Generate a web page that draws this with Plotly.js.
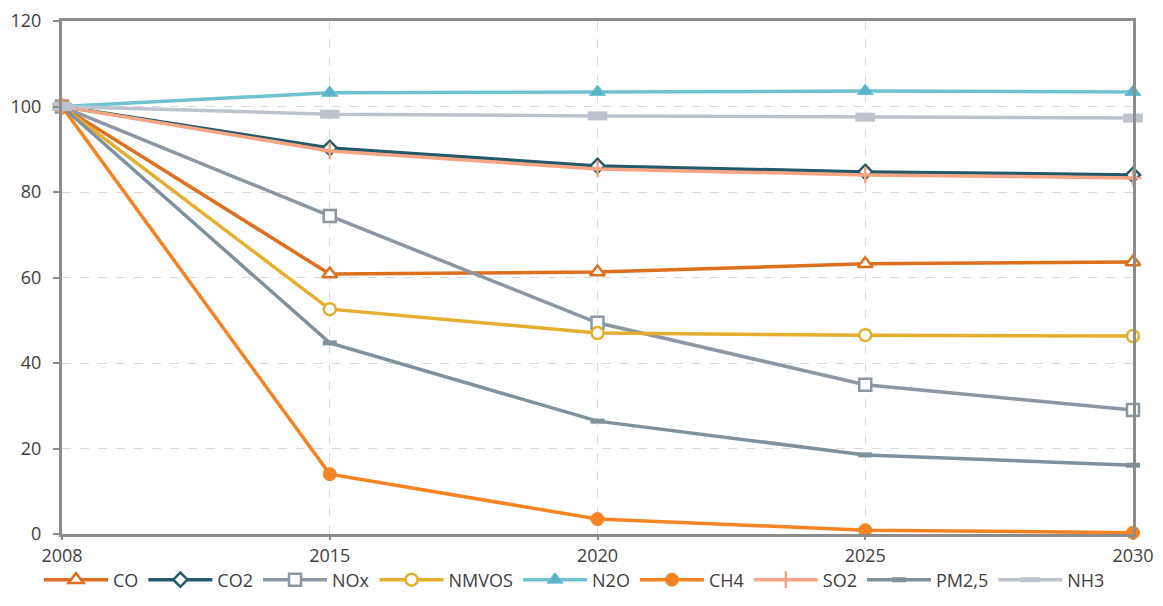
<!DOCTYPE html>
<html><head><meta charset="utf-8">
<script src="https://cdn.plot.ly/plotly-3.0.1.min.js"></script>
<style>html,body{margin:0;padding:0;background:#fff}#c{width:1163px;height:606px}</style>
</head><body><div id="c"></div>
<script>
const years = ["2008","2015","2020","2025","2030"];
const CO    = [100, 60.8, 61.3, 63.2, 63.6];
const CO2   = [100, 90.3, 86.1, 84.7, 84.0];
const NOx   = [100, 74.4, 49.4, 34.9, 29.0];
const NMVOS = [100, 52.6, 47.0, 46.5, 46.3];
const N2O   = [100, 103.2, 103.4, 103.6, 103.4];
const CH4   = [100, 14.0, 3.5, 0.9, 0.3];
const SO2   = [100, 89.6, 85.4, 84.0, 83.3];
const PM25  = [100, 44.7, 26.4, 18.5, 16.1];
const NH3   = [100, 98.2, 97.8, 97.5, 97.3];

function tr(name, y, color, marker){
  return {type:'scatter', mode:'lines+markers', name:name, x:years, y:y,
    line:{color:color, width:3.5},
    marker:marker, cliponaxis:false};
}
const data = [
  tr('CO', CO, '#DE6F1E', {symbol:'triangle-up', size:13, color:'#fff', line:{color:'#DE6F1E', width:2.5}}),
  tr('CO2', CO2, '#22596B', {symbol:'diamond', size:11, color:'#fff', line:{color:'#22596B', width:2.5}}),
  tr('NOx', NOx, '#8C97A4', {symbol:'square', size:12, color:'#fff', line:{color:'#8C97A4', width:2.5}}),
  tr('NMVOS', NMVOS, '#E5AE2E', {symbol:'circle', size:12, color:'#fff', line:{color:'#E5AE2E', width:2.5}}),
  tr('N2O', N2O, '#6EC2D1', {symbol:'triangle-up', size:14, color:'#5DB3C3', line:{color:'#6EC2D1', width:1}}),
  tr('CH4', CH4, '#F58322', {symbol:'circle', size:13, color:'#F58322', line:{color:'#F58322', width:1}}),
  tr('SO2', SO2, '#F5A583', {symbol:'cross-thin', size:12, line:{color:'#F5A583', width:2.5}}),
  tr('PM2,5', PM25, '#7F919D', {symbol:'line-ew', size:10, line:{color:'#7F919D', width:5}}),
  tr('NH3', NH3, '#BCC3CC', {symbol:'line-ew', size:14, line:{color:'#BCC3CC', width:9}})
];
const font = {family:'Open Sans, sans-serif', size:18, color:'#404040'};
const layout = {
  width:1163, height:606,
  margin:{l:62, r:30, t:21, b:72},
  paper_bgcolor:'#fff', plot_bgcolor:'#fff',
  font:font,
  showlegend:true,
  legend:{orientation:'h', x:0.494, xref:'container', xanchor:'center', y:0.043, yref:'container', yanchor:'middle',
    bgcolor:'rgba(0,0,0,0)',
    font:{family:'Open Sans, sans-serif', size:18, color:'#404040'}, itemwidth:64, tracegroupgap:0},
  xaxis:{type:'category', range:[0,4], showline:true, linecolor:'#8C8C8C', linewidth:3, mirror:true,
    showgrid:true, gridcolor:'#D9D9D9', griddash:'dash', gridwidth:1,
    ticks:'outside', ticklen:3, tickcolor:'#8C8C8C', tickwidth:2, zeroline:false, automargin:false},
  yaxis:{range:[0,120], dtick:20, showline:true, linecolor:'#8C8C8C', linewidth:3, mirror:true,
    showgrid:true, gridcolor:'#D9D9D9', griddash:'dash', gridwidth:1,
    ticks:'outside', ticklen:6, tickcolor:'#8C8C8C', tickwidth:2, zeroline:false, automargin:false, ticklabelstandoff:8}
};
Plotly.newPlot('c', data, layout, {displayModeBar:false, staticPlot:true});
</script></body></html>
